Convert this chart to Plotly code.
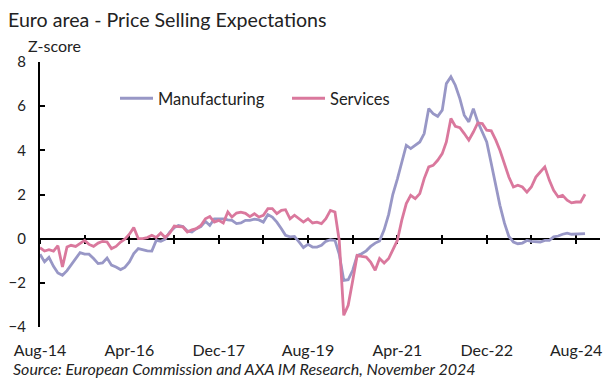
import pandas as pd
import plotly.graph_objects as go

# Monthly z-scores, Aug-2014 .. Oct-2024
manufacturing = [
    -0.70, -1.05, -0.85, -1.25, -1.55, -1.66, -1.45, -1.20, -0.90, -0.63,
    -0.70, -0.70, -0.90, -1.13, -1.10, -0.88, -1.20, -1.28, -1.40, -1.30,
    -1.05, -0.68, -0.45, -0.50, -0.55, -0.56, -0.08, -0.12, -0.02, 0.30,
    0.50, 0.60, 0.55, 0.35, 0.30, 0.45, 0.55, 0.79, 0.60, 0.90,
    0.90, 0.90, 0.85, 0.83, 0.68, 0.71, 0.83, 0.83, 0.88, 0.85,
    0.75, 1.09, 0.98, 0.75, 0.45, 0.15, 0.08, 0.10, -0.15, -0.40,
    -0.26, -0.38, -0.38, -0.30, -0.12, -0.05, -0.08, -0.70, -1.89, -1.86,
    -1.43, -0.76, -0.68, -0.55, -0.35, -0.20, -0.10, 0.40, 1.10, 2.00,
    2.70, 3.50, 4.23, 4.08, 4.23, 4.38, 4.76, 5.89, 5.66, 5.54,
    5.82, 7.02, 7.33, 6.95, 6.34, 5.59, 5.29, 5.89, 5.29, 4.83,
    4.38, 3.40, 2.34, 1.51, 0.70, 0.10, -0.15, -0.23, -0.20, -0.08,
    -0.12, -0.15, -0.15, -0.08, -0.08, 0.08, 0.12, 0.20, 0.25, 0.20,
    0.20, 0.20, 0.23,
]
services = [
    -0.41, -0.56, -0.50, -0.56, -0.32, -1.28, -0.38, -0.30, -0.35, -0.20,
    -0.08, -0.26, -0.35, -0.20, -0.12, -0.15, -0.45, -0.35, -0.15, -0.02,
    0.20, 0.50, 0.00, 0.00, 0.05, 0.15, 0.05, 0.26, 0.05, 0.25,
    0.57, 0.55, 0.53, 0.30, 0.40, 0.45, 0.60, 0.90, 1.00, 0.75,
    0.83, 0.71, 1.21, 0.98, 1.16, 1.20, 1.15, 1.00, 1.13, 0.98,
    1.06, 1.36, 1.36, 1.13, 1.28, 1.31, 0.90, 1.06, 0.90, 0.75,
    0.90, 0.71, 0.75, 0.68, 0.90, 1.28, 1.21, -0.08, -3.47, -3.02,
    -1.89, -0.76, -0.80, -0.83, -1.06, -1.43, -0.90, -1.10, -0.90, -0.53,
    -0.08, 0.83, 1.59, 1.96, 1.81, 2.04, 2.72, 3.25, 3.32, 3.55,
    3.85, 4.38, 5.44, 5.09, 5.03, 4.76, 4.46, 4.83, 5.24, 5.21,
    4.91, 4.88, 4.46, 4.00, 3.40, 2.79, 2.34, 2.42, 2.34, 2.11,
    2.34, 2.79, 3.02, 3.25, 2.64, 2.19, 1.89, 1.96, 1.74, 1.62,
    1.66, 1.66, 2.01,
]
dates = pd.date_range("2014-08-01", periods=len(manufacturing), freq="MS")

series_names = ["Manufacturing", "Services"]
series_colors = ["#9897C6", "#DA789D"]

title_text = "Euro area - Price Selling Expectations"
y_title = "Z-score"
source_text = "Source: European Commission and AXA IM Research, November 2024"

x_range = ["2014-08-01", "2025-01-11"]
y_range = [-4, 8]
FONT = "Lato"
TXT = "#222222"

# the page body adds an 8px offset; the figure is sized to fit the window
W, H = 606, 371
L, R, T, B = 32, 14, 54, 52

fig = go.Figure()
for name, vals, col in zip(series_names, [manufacturing, services], series_colors):
    fig.add_trace(go.Scatter(x=dates, y=vals, name=name, mode="lines",
                             line=dict(color=col, width=2.8)))
# helper traces so the extra axes are drawn
fig.add_trace(go.Scatter(x=[], y=[], xaxis="x2", showlegend=False, hoverinfo="skip"))
fig.add_trace(go.Scatter(x=[], y=[], xaxis="x3", showlegend=False, hoverinfo="skip"))

zero_pos = (0 - y_range[0]) / (y_range[1] - y_range[0])
pw = W - L - R
ph = H - T - B


def px_x(sx):
    """screen x (reference pixels) -> paper x"""
    return (sx - 8 - L) / pw


def px_y(sy):
    """screen y (reference pixels) -> paper y"""
    return (H - B - (sy - 8)) / ph


fig.update_layout(
    template="none",
    width=W, height=H,
    margin=dict(l=L, r=R, t=T, b=B, pad=0),
    paper_bgcolor="white", plot_bgcolor="white",
    font=dict(family=FONT, color=TXT, size=15),
    title=dict(text=title_text, x=0, xanchor="left", xref="container",
               y=1 - 12 / H, yanchor="middle", yref="container", pad=dict(l=0, r=0, t=0, b=0),
               font=dict(size=19.6, family=FONT, color=TXT)),
    showlegend=True,
    legend=dict(orientation="h", x=px_x(115), xanchor="left", y=px_y(98.5), yanchor="middle",
                bgcolor="rgba(0,0,0,0)", borderwidth=0, font=dict(size=16.5, color=TXT),
                entrywidth=124, entrywidthmode="pixels", itemwidth=33),
    xaxis=dict(type="date", range=x_range, anchor="free", position=zero_pos,
               showline=True, linecolor="black", linewidth=2,
               ticks="outside", ticklen=4, tickwidth=1.5, tickcolor="black",
               dtick="M10", tick0="2014-08-01", showticklabels=False,
               showgrid=False, zeroline=False, layer="below traces", automargin=False),
    xaxis3=dict(type="date", range=x_range, anchor="free", position=zero_pos,
                overlaying="x", showline=False,
                ticks="inside", ticklen=4, tickwidth=1.5, tickcolor="black",
                dtick="M10", tick0="2014-08-01", showticklabels=False,
                showgrid=False, zeroline=False, layer="below traces", automargin=False),
    xaxis2=dict(type="date", range=x_range, anchor="free", position=0,
                overlaying="x", side="bottom", showline=False, ticks="",
                dtick="M20", tick0="2014-08-01", tickformat="%b-%y",
                tickfont=dict(size=16, color=TXT), ticklabelstandoff=12,
                showgrid=False, zeroline=False, automargin=False),
    yaxis=dict(range=y_range, dtick=2, showline=True, linecolor="black", linewidth=2,
               ticks="inside", ticklen=5, tickwidth=1.5, tickcolor="black",
               showgrid=False, zeroline=False, tickfont=dict(size=15, color=TXT),
               ticklabelstandoff=9, automargin=False),
    annotations=[
        dict(text=y_title, xref="paper", yref="paper", x=px_x(27), xanchor="left",
             y=px_y(45), yanchor="middle", showarrow=False, borderpad=0,
             font=dict(size=16, color=TXT)),
        dict(text="<i>" + source_text + "</i>", xref="paper", yref="paper",
             x=px_x(12), xanchor="left", y=px_y(368.5), yanchor="middle",
             showarrow=False, borderpad=0, font=dict(size=16, color=TXT)),
    ],
)

fig.write_html("out.html")
